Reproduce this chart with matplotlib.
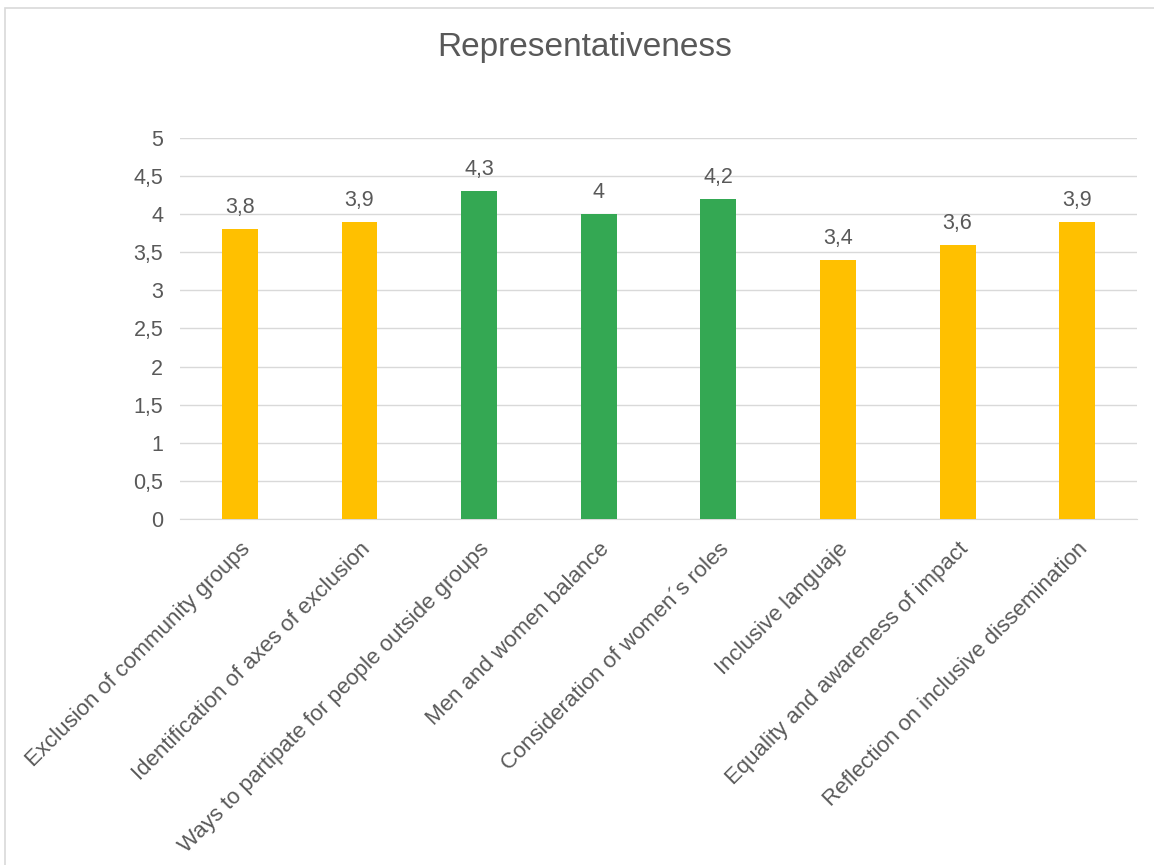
import matplotlib.pyplot as plt
from matplotlib.patches import Rectangle

plt.rcParams['font.family'] = ['Liberation Sans', 'DejaVu Sans']

categories = [
    'Exclusion of community groups',
    'Identification of axes of exclusion',
    'Ways to partipate for people outside groups',
    'Men and women balance',
    'Consideration of women\u00b4s roles',
    'Inclusive languaje',
    'Equality and awareness of impact',
    'Reflection on inclusive dissemination',
]
scores = [3.8, 3.9, 4.3, 4.0, 4.2, 3.4, 3.6, 3.9]
highlight = [False, False, True, True, True, False, False, False]

yellow = '#FFC000'
green = '#34A853'
text_gray = '#595959'
grid_gray = '#D9D9D9'


def fmt(v):
    # decimal comma, no trailing zero
    s = f'{v:g}'
    return s.replace('.', ',')


fig = plt.figure(figsize=(11.54, 8.65), dpi=100)
ax = fig.add_axes([0.156, 0.4, 0.8293, 0.4405])

colors = [green if h else yellow for h in highlight]
x = range(len(categories))
bars = ax.bar(x, scores, width=0.30, color=colors, zorder=3)

for b, v in zip(bars, scores):
    ax.annotate(fmt(v), (b.get_x() + b.get_width() / 2, v),
                xytext=(0, 8), textcoords='offset points',
                ha='center', va='bottom', fontsize=15.5, color=text_gray)

ax.set_xlim(-0.5, len(categories) - 0.5)
ax.set_ylim(0, 5)
yt = [i * 0.5 for i in range(11)]
ax.set_yticks(yt)
ax.set_yticklabels([fmt(t) for t in yt], fontsize=15.5, color=text_gray)
ax.set_xticks(list(x))
ax.set_xticklabels(categories, rotation=45, ha='right', rotation_mode='anchor',
                   fontsize=16, color=text_gray)
ax.tick_params(axis='y', length=0, pad=12)
ax.tick_params(axis='x', length=0, pad=14)

ax.yaxis.grid(True, color=grid_gray, linewidth=1, zorder=0)
for side in ['top', 'right', 'left']:
    ax.spines[side].set_visible(False)
ax.spines['bottom'].set_color(grid_gray)
ax.spines['bottom'].set_zorder(1)

fig.text(0.507, 0.945, 'Representativeness', ha='center', va='center',
         fontsize=24, color=text_gray)

# thin frame around the chart area
fig.patches.append(Rectangle((5 / 1154, -0.05), 1.1, 1.05 - 8 / 865,
                             transform=fig.transFigure, fill=False,
                             edgecolor='#D9D9D9', linewidth=1.2))

fig.savefig('out.png', dpi=100, facecolor='white')
